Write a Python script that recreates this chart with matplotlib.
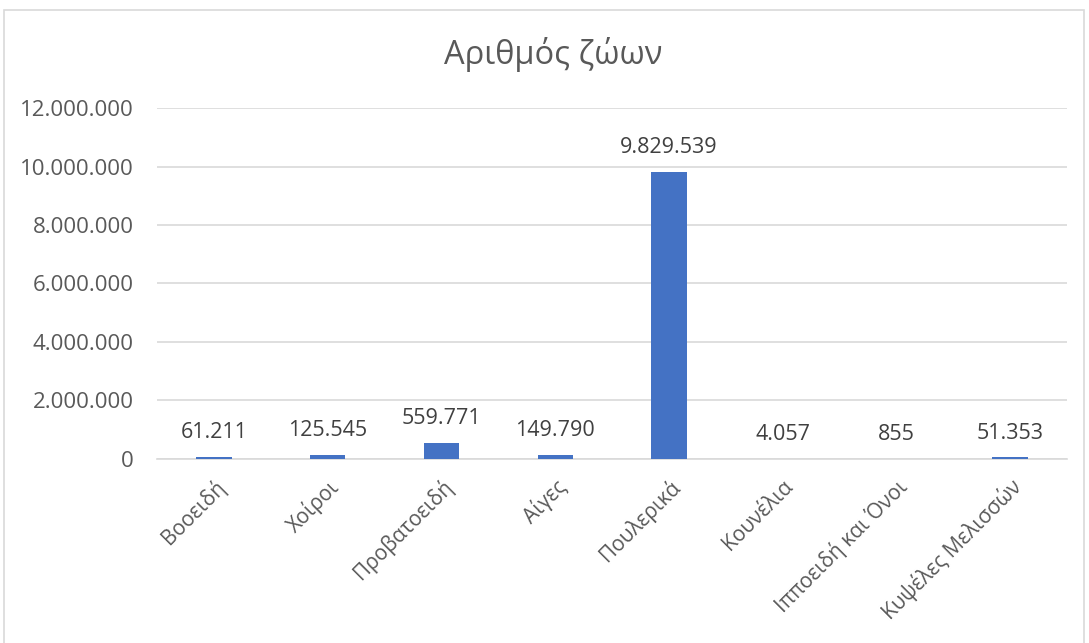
import matplotlib.pyplot as plt
from matplotlib.patches import Rectangle
from matplotlib.ticker import FuncFormatter

categories = ['Βοοειδή', 'Χοίροι', 'Προβατοειδή', 'Αίγες', 'Πουλερικά',
              'Κουνέλια', 'Ιπποειδή και Όνοι', 'Κυψέλες Μελισσών']
values = [61211, 125545, 559771, 149790, 9829539, 4057, 855, 51353]
yticks = [0, 2000000, 4000000, 6000000, 8000000, 10000000, 12000000]

plt.rcParams['font.family'] = ['Open Sans', 'DejaVu Sans']
grey = '#595959'


def dotted(v):
    # Greek number format: dots as thousands separators
    return f'{int(v):,}'.replace(',', '.')


fig = plt.figure(figsize=(10.89, 6.43), dpi=100)
ax = fig.add_axes([0.1442, 0.2862, 0.8356, 0.5458])

# chart frame
fig.patches.append(Rectangle((4 / 1089, -0.01), 1080 / 1089, 1 - 10 / 643 + 0.01,
                             transform=fig.transFigure, fill=False,
                             edgecolor='#D9D9D9', linewidth=1.2))

x = range(len(categories))
ax.bar(x, values, width=0.31, color='#4472C4', zorder=3)

for i, v in zip(x, values):
    ax.annotate(dotted(v), (i, v), xytext=(0, 10), textcoords='offset points',
                ha='center', va='bottom', fontsize=15.5, color='#404040')

ax.set_ylim(0, 12000000)
ax.set_xlim(-0.5, len(categories) - 0.5)
ax.set_yticks(yticks)
ax.yaxis.set_major_formatter(FuncFormatter(lambda v, p: dotted(v)))
ax.grid(axis='y', color='#D9D9D9', linewidth=1.2, zorder=0)
ax.set_xticks(list(x))
ax.set_xticklabels(categories, rotation=45, ha='right', rotation_mode='anchor',
                   fontsize=15, color=grey)
ax.tick_params(axis='y', length=0, labelsize=16, labelcolor=grey, pad=17)
ax.tick_params(axis='x', length=0, pad=12)
for s in ['top', 'right', 'left']:
    ax.spines[s].set_visible(False)
ax.spines['bottom'].set_color('#D9D9D9')
ax.spines['bottom'].set_linewidth(1.2)

fig.text(0.508, 1 - 55 / 643, 'Αριθμός ζώων', ha='center', va='center',
         fontsize=23.5, color=grey)

fig.savefig('out.png', dpi=100)
